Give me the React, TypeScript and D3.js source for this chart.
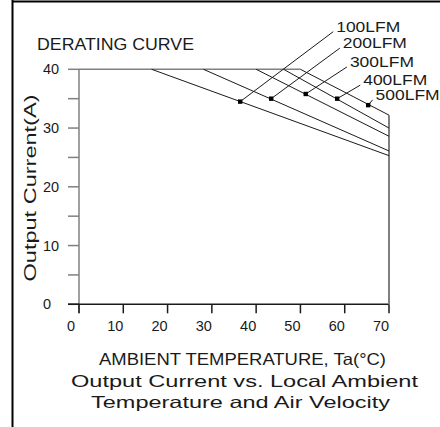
import React from 'react';
import * as d3 from 'd3';

// derating curves: flat at 40A, then straight down to the 70°C value
const airflow = ['100LFM', '200LFM', '300LFM', '400LFM', '500LFM'];
const derateStartTemp = [16.4, 28.1, 40, 46.2, 50];
const currentAt70 = [25.3, 26.1, 28.6, 30.0, 32.2];
// marker dots on each curve
const markerTemp = [36.4, 43.4, 51.2, 58.3, 65.3];
const markerCurrent = [34.5, 35.0, 35.8, 35.0, 33.9];
// where each leader line ends (label anchor), in data units
const labelTemp = [57.4, 58.9, 60.5, 63.5, 66.3];
const labelCurrent = [46.4, 43.6, 40.4, 37.3, 34.8];

const xTicks = [0, 10, 20, 30, 40, 50, 60, 70];
const yTickLabels = [0, 10, 20, 30, 40];
const yTicksMinor = [0, 5, 10, 15, 20, 25, 30, 35, 40];

const W = 440;
const H = 427;
const FONT = '"Liberation Sans", Arial, sans-serif';
const INK = '#1a1a1a';
const GRAY = '#808080';

export default function App() {
  const x = d3.scaleLinear().domain([0, 70]).range([79, 389]);
  const y = d3.scaleLinear().domain([0, 40]).range([304.3, 69.3]);
  const line = d3
    .line<[number, number]>()
    .x((d) => x(d[0]))
    .y((d) => y(d[1]));

  const curves = airflow.map((name, i) => ({
    name,
    pts: [
      [derateStartTemp[i], 40],
      [70, currentAt70[i]],
    ] as [number, number][],
  }));

  // flat 40A segment runs up to the last curve's knee
  const topEnd = d3.max(derateStartTemp) as number;
  const x0 = x(0);
  const y0 = y(0);

  return (
    <div style={{ position: 'absolute', left: 0, top: 0 }}>
      <svg width={W} height={H} style={{ display: 'block', background: '#fff' }}>
        {/* sheet border */}
        <line x1={12.5} y1={0} x2={12.5} y2={H} stroke="#000" strokeWidth={2} />
        <line x1={12} y1={1.5} x2={W} y2={1.5} stroke="#000" strokeWidth={2} />

        <text x={37} y={50} fontFamily={FONT} fontSize={16.5} fill={INK}
          textLength={157} lengthAdjust="spacingAndGlyphs">DERATING CURVE</text>

        {/* y axis */}
        <line x1={x0} y1={y(40)} x2={x0} y2={y0 + 9} stroke={GRAY} strokeWidth={1.5} />
        {yTicksMinor.map((t) => (
          <line key={'yt' + t} x1={68} x2={x0} y1={y(t)} y2={y(t)}
            stroke={t === 0 ? INK : GRAY} strokeWidth={1.5} />
        ))}
        {yTickLabels.map((t) => (
          <text key={'yl' + t} x={43} y={y(t) + 5} fontFamily={FONT} fontSize={14.5} fill={INK}>
            {t}
          </text>
        ))}

        {/* x axis */}
        <line x1={68} x2={x(70)} y1={y0} y2={y0} stroke={INK} strokeWidth={1.5} />
        {xTicks.map((t) => (
          <g key={'xt' + t}>
            <line x1={x(t)} x2={x(t)} y1={y0} y2={y0 + 9} stroke={INK} strokeWidth={1.5} />
            <text x={x(t) - 8} y={331} textAnchor="middle" fontFamily={FONT} fontSize={14.5} fill={INK}>
              {t}
            </text>
          </g>
        ))}

        {/* 40A limit and 70°C edge */}
        <line x1={x0} x2={x(topEnd)} y1={y(40)} y2={y(40)} stroke={GRAY} strokeWidth={1.5} />
        <line x1={x(70)} x2={x(70)} y1={y(d3.max(currentAt70) as number)} y2={y0}
          stroke={GRAY} strokeWidth={2} />

        {/* curves */}
        {curves.map((c) => (
          <path key={c.name} d={line(c.pts) || ''} fill="none" stroke={INK} strokeWidth={1} />
        ))}

        {/* leaders, markers, labels */}
        {airflow.map((name, i) => {
          const mx = x(markerTemp[i]);
          const my = y(markerCurrent[i]);
          const lx = x(labelTemp[i]);
          const ly = y(labelCurrent[i]);
          return (
            <g key={'lab' + name}>
              <line x1={mx} y1={my} x2={lx} y2={ly} stroke={INK} strokeWidth={1} />
              <rect x={mx - 2.2} y={my - 2.2} width={4.4} height={4.4} fill="#000" />
              <text x={lx + 3} y={ly} fontFamily={FONT} fontSize={14.5} fill={INK}
                textLength={64} lengthAdjust="spacingAndGlyphs">{name}</text>
            </g>
          );
        })}

        {/* y axis title */}
        <text transform="translate(36,188) rotate(-90)" textAnchor="middle" fontFamily={FONT}
          fontSize={16.5} fill={INK} textLength={187} lengthAdjust="spacingAndGlyphs">
          Output Current(A)
        </text>

        {/* x axis title and caption */}
        <text x={99} y={365} fontFamily={FONT} fontSize={16.5} fill={INK}
          textLength={287} lengthAdjust="spacingAndGlyphs">AMBIENT TEMPERATURE, Ta(°C)</text>
        <text x={71} y={387} fontFamily={FONT} fontSize={16.5} fill={INK}
          textLength={347} lengthAdjust="spacingAndGlyphs">Output Current vs. Local Ambient</text>
        <text x={91} y={408} fontFamily={FONT} fontSize={16.5} fill={INK}
          textLength={299} lengthAdjust="spacingAndGlyphs">Temperature and Air Velocity</text>
      </svg>
    </div>
  );
}
